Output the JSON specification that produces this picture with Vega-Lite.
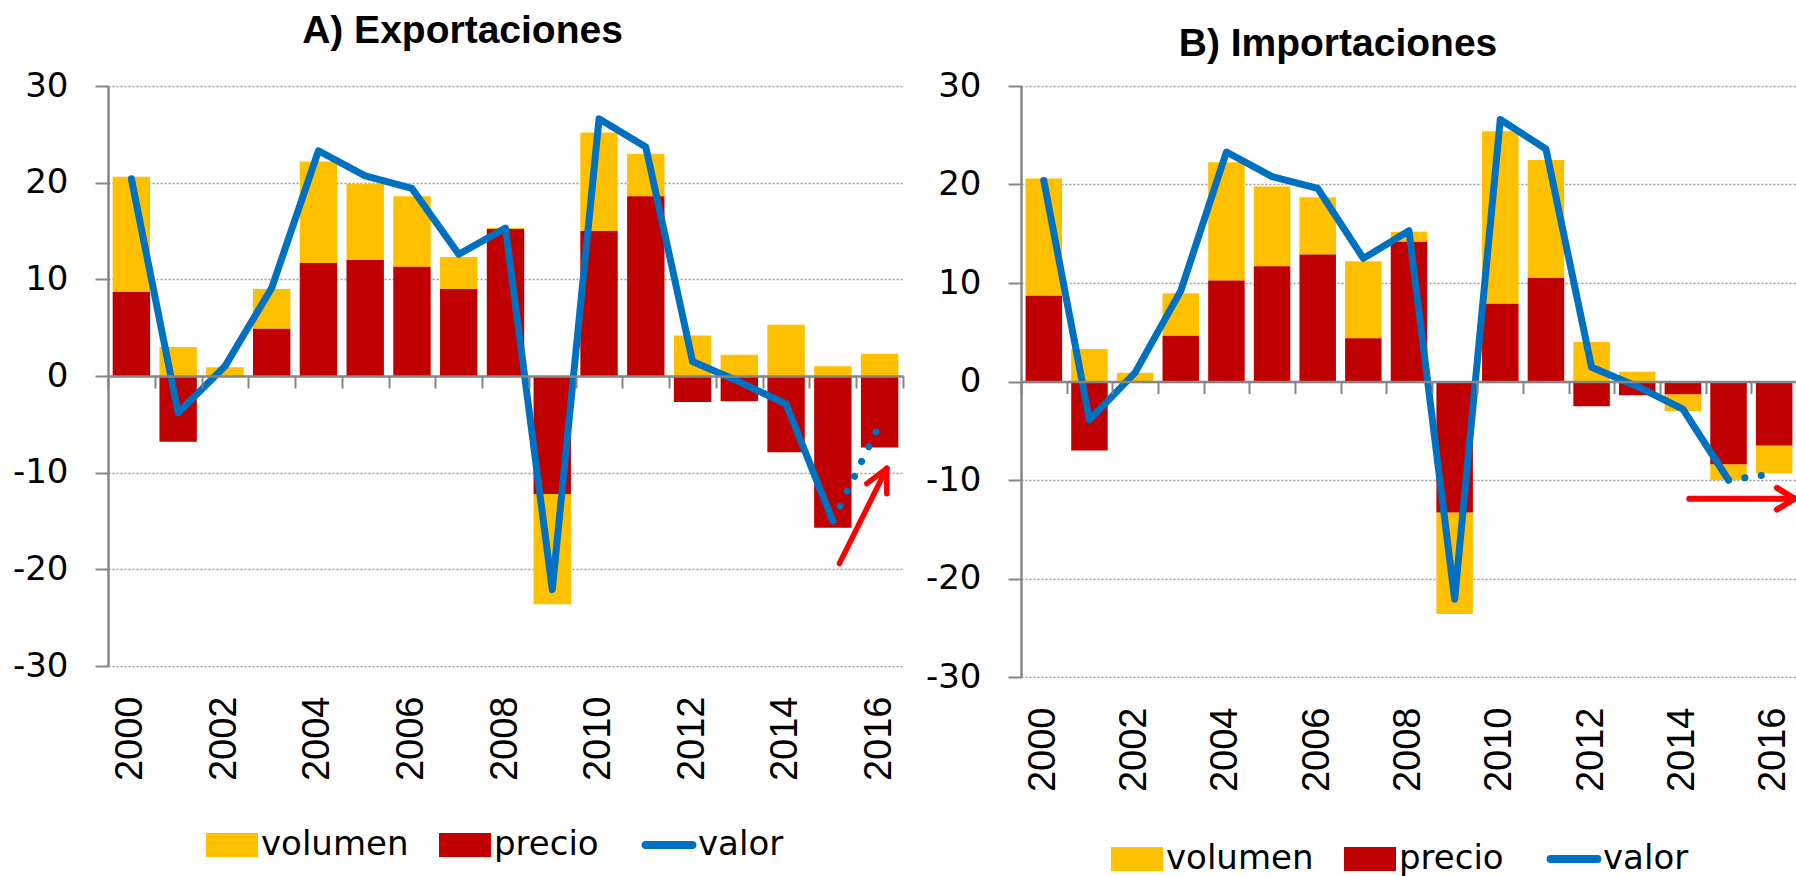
{
  "$schema": "https://vega.github.io/schema/vega-lite/v6.json",
  "background": "white",
  "padding": {"left": 12, "top": 12, "right": 0, "bottom": 0},
  "spacing": 21,
  "datasets": {
    "barras": [
      {"panel": "A", "anio": 2000, "componente": "volumen", "valor": 11.9},
      {"panel": "A", "anio": 2000, "componente": "precio", "valor": 8.7},
      {"panel": "A", "anio": 2001, "componente": "volumen", "valor": 3.0},
      {"panel": "A", "anio": 2001, "componente": "precio", "valor": -6.8},
      {"panel": "A", "anio": 2002, "componente": "volumen", "valor": 0.9},
      {"panel": "A", "anio": 2002, "componente": "precio", "valor": 0.0},
      {"panel": "A", "anio": 2003, "componente": "volumen", "valor": 4.1},
      {"panel": "A", "anio": 2003, "componente": "precio", "valor": 4.9},
      {"panel": "A", "anio": 2004, "componente": "volumen", "valor": 10.5},
      {"panel": "A", "anio": 2004, "componente": "precio", "valor": 11.7},
      {"panel": "A", "anio": 2005, "componente": "volumen", "valor": 7.9},
      {"panel": "A", "anio": 2005, "componente": "precio", "valor": 12.0},
      {"panel": "A", "anio": 2006, "componente": "volumen", "valor": 7.3},
      {"panel": "A", "anio": 2006, "componente": "precio", "valor": 11.3},
      {"panel": "A", "anio": 2007, "componente": "volumen", "valor": 3.3},
      {"panel": "A", "anio": 2007, "componente": "precio", "valor": 9.0},
      {"panel": "A", "anio": 2008, "componente": "volumen", "valor": 0.1},
      {"panel": "A", "anio": 2008, "componente": "precio", "valor": 15.2},
      {"panel": "A", "anio": 2009, "componente": "volumen", "valor": -11.4},
      {"panel": "A", "anio": 2009, "componente": "precio", "valor": -12.2},
      {"panel": "A", "anio": 2010, "componente": "volumen", "valor": 10.2},
      {"panel": "A", "anio": 2010, "componente": "precio", "valor": 15.0},
      {"panel": "A", "anio": 2011, "componente": "volumen", "valor": 4.4},
      {"panel": "A", "anio": 2011, "componente": "precio", "valor": 18.6},
      {"panel": "A", "anio": 2012, "componente": "volumen", "valor": 4.2},
      {"panel": "A", "anio": 2012, "componente": "precio", "valor": -2.7},
      {"panel": "A", "anio": 2013, "componente": "volumen", "valor": 2.2},
      {"panel": "A", "anio": 2013, "componente": "precio", "valor": -2.6},
      {"panel": "A", "anio": 2014, "componente": "volumen", "valor": 5.3},
      {"panel": "A", "anio": 2014, "componente": "precio", "valor": -7.9},
      {"panel": "A", "anio": 2015, "componente": "volumen", "valor": 1.0},
      {"panel": "A", "anio": 2015, "componente": "precio", "valor": -15.7},
      {"panel": "A", "anio": 2016, "componente": "volumen", "valor": 2.3},
      {"panel": "A", "anio": 2016, "componente": "precio", "valor": -7.4},
      {"panel": "B", "anio": 2000, "componente": "volumen", "valor": 11.9},
      {"panel": "B", "anio": 2000, "componente": "precio", "valor": 8.7},
      {"panel": "B", "anio": 2001, "componente": "volumen", "valor": 3.3},
      {"panel": "B", "anio": 2001, "componente": "precio", "valor": -7.0},
      {"panel": "B", "anio": 2002, "componente": "volumen", "valor": 0.9},
      {"panel": "B", "anio": 2002, "componente": "precio", "valor": 0.0},
      {"panel": "B", "anio": 2003, "componente": "volumen", "valor": 4.3},
      {"panel": "B", "anio": 2003, "componente": "precio", "valor": 4.65},
      {"panel": "B", "anio": 2004, "componente": "volumen", "valor": 12.0},
      {"panel": "B", "anio": 2004, "componente": "precio", "valor": 10.25},
      {"panel": "B", "anio": 2005, "componente": "volumen", "valor": 8.1},
      {"panel": "B", "anio": 2005, "componente": "precio", "valor": 11.7},
      {"panel": "B", "anio": 2006, "componente": "volumen", "valor": 5.8},
      {"panel": "B", "anio": 2006, "componente": "precio", "valor": 12.9},
      {"panel": "B", "anio": 2007, "componente": "volumen", "valor": 7.8},
      {"panel": "B", "anio": 2007, "componente": "precio", "valor": 4.4},
      {"panel": "B", "anio": 2008, "componente": "volumen", "valor": 1.0},
      {"panel": "B", "anio": 2008, "componente": "precio", "valor": 14.2},
      {"panel": "B", "anio": 2009, "componente": "volumen", "valor": -10.3},
      {"panel": "B", "anio": 2009, "componente": "precio", "valor": -13.3},
      {"panel": "B", "anio": 2010, "componente": "volumen", "valor": 17.5},
      {"panel": "B", "anio": 2010, "componente": "precio", "valor": 7.9},
      {"panel": "B", "anio": 2011, "componente": "volumen", "valor": 12.0},
      {"panel": "B", "anio": 2011, "componente": "precio", "valor": 10.5},
      {"panel": "B", "anio": 2012, "componente": "volumen", "valor": 4.0},
      {"panel": "B", "anio": 2012, "componente": "precio", "valor": -2.5},
      {"panel": "B", "anio": 2013, "componente": "volumen", "valor": 1.0},
      {"panel": "B", "anio": 2013, "componente": "precio", "valor": -1.4},
      {"panel": "B", "anio": 2014, "componente": "volumen", "valor": -1.7},
      {"panel": "B", "anio": 2014, "componente": "precio", "valor": -1.3},
      {"panel": "B", "anio": 2015, "componente": "volumen", "valor": -1.6},
      {"panel": "B", "anio": 2015, "componente": "precio", "valor": -8.4},
      {"panel": "B", "anio": 2016, "componente": "volumen", "valor": -2.85},
      {"panel": "B", "anio": 2016, "componente": "precio", "valor": -6.5}
    ],
    "linea": [
      {"panel": "A", "anio": 2000, "valor": 20.4, "tramo": "observado"},
      {"panel": "A", "anio": 2001, "valor": -3.8, "tramo": "observado"},
      {"panel": "A", "anio": 2002, "valor": 1.0, "tramo": "observado"},
      {"panel": "A", "anio": 2003, "valor": 9.1, "tramo": "observado"},
      {"panel": "A", "anio": 2004, "valor": 23.3, "tramo": "observado"},
      {"panel": "A", "anio": 2005, "valor": 20.7, "tramo": "observado"},
      {"panel": "A", "anio": 2006, "valor": 19.4, "tramo": "observado"},
      {"panel": "A", "anio": 2007, "valor": 12.6, "tramo": "observado"},
      {"panel": "A", "anio": 2008, "valor": 15.3, "tramo": "observado"},
      {"panel": "A", "anio": 2009, "valor": -22.1, "tramo": "observado"},
      {"panel": "A", "anio": 2010, "valor": 26.6, "tramo": "observado"},
      {"panel": "A", "anio": 2011, "valor": 23.7, "tramo": "observado"},
      {"panel": "A", "anio": 2012, "valor": 1.5, "tramo": "observado"},
      {"panel": "A", "anio": 2013, "valor": -0.6, "tramo": "observado"},
      {"panel": "A", "anio": 2014, "valor": -2.9, "tramo": "observado"},
      {"panel": "A", "anio": 2015, "valor": -15.0, "tramo": "observado"},
      {"panel": "A", "anio": 2015, "valor": -15.0, "tramo": "estimado"},
      {"panel": "A", "anio": 2016, "valor": -5.0, "tramo": "estimado"},
      {"panel": "B", "anio": 2000, "valor": 20.4, "tramo": "observado"},
      {"panel": "B", "anio": 2001, "valor": -3.9, "tramo": "observado"},
      {"panel": "B", "anio": 2002, "valor": 0.9, "tramo": "observado"},
      {"panel": "B", "anio": 2003, "valor": 9.2, "tramo": "observado"},
      {"panel": "B", "anio": 2004, "valor": 23.3, "tramo": "observado"},
      {"panel": "B", "anio": 2005, "valor": 20.8, "tramo": "observado"},
      {"panel": "B", "anio": 2006, "valor": 19.6, "tramo": "observado"},
      {"panel": "B", "anio": 2007, "valor": 12.5, "tramo": "observado"},
      {"panel": "B", "anio": 2008, "valor": 15.3, "tramo": "observado"},
      {"panel": "B", "anio": 2009, "valor": -22.1, "tramo": "observado"},
      {"panel": "B", "anio": 2010, "valor": 26.6, "tramo": "observado"},
      {"panel": "B", "anio": 2011, "valor": 23.6, "tramo": "observado"},
      {"panel": "B", "anio": 2012, "valor": 1.45, "tramo": "observado"},
      {"panel": "B", "anio": 2013, "valor": -0.5, "tramo": "observado"},
      {"panel": "B", "anio": 2014, "valor": -2.8, "tramo": "observado"},
      {"panel": "B", "anio": 2015, "valor": -10.0, "tramo": "observado"},
      {"panel": "B", "anio": 2015, "valor": -10.0, "tramo": "estimado"},
      {"panel": "B", "anio": 2016, "valor": -9.35, "tramo": "estimado"}
    ],
    "flechas": [
      {"panel": "A", "x": 2015.14, "y": -19.4, "x2": 2016.153, "y2": -9.55},
      {"panel": "A", "x": 2016.153, "y": -9.55, "x2": 2015.725, "y2": -11.13},
      {"panel": "A", "x": 2016.153, "y": -9.55, "x2": 2016.153, "y2": -12.17},
      {"panel": "B", "x": 2014.14, "y": -11.9, "x2": 2016.45, "y2": -11.9},
      {"panel": "B", "x": 2016.45, "y": -11.9, "x2": 2016.06, "y2": -10.8},
      {"panel": "B", "x": 2016.45, "y": -11.9, "x2": 2016.06, "y2": -13.0}
    ]
  },
  "hconcat": [
    {
      "width": 795,
      "height": 580,
      "title": {"text": "A) Exportaciones", "font": "Liberation Sans", "fontSize": 39, "fontWeight": "bold", "color": "black", "anchor": "middle", "offset": 18, "dx": -43},
      "layer": [
        {
          "data": {"name": "barras"},
          "transform": [{"filter": "datum.panel === 'A'"}],
          "mark": {"type": "bar"},
          "encoding": {
            "x": {"field": "anio", "type": "ordinal", "scale": {"paddingInner": 0.2, "paddingOuter": 0.1},
              "axis": {"orient": "bottom", "title": null, "domain": false, "ticks": false, "grid": false, "labelAngle": -90, "labelFont": "Liberation Sans", "labelFontSize": 38, "labelColor": "black", "labelPadding": 30, "values": [2000, 2002, 2004, 2006, 2008, 2010, 2012, 2014, 2016]}},
            "y": {"field": "valor", "type": "quantitative", "stack": "zero", "scale": {"domain": [-30, 30], "nice": false},
              "axis": {"title": null, "values": [-30, -20, -10, 0, 10, 20, 30], "labelExpr": "'' + datum.value", "grid": true, "gridColor": "#999999", "gridDash": [2, 2], "gridWidth": 1.5, "domainColor": "#868686", "domainWidth": 2.5, "tickColor": "#868686", "tickWidth": 2, "tickSize": 13, "labelFont": "DejaVu Sans", "labelFontSize": 34, "labelColor": "black", "labelPadding": 27}},
            "color": {"field": "componente", "type": "nominal",
              "scale": {"domain": ["volumen", "precio", "valor"], "range": ["#FFC000", "#C00000", "#0070C0"]},
              "legend": {"orient": "none", "legendX": 107, "legendY": 742, "direction": "horizontal", "title": null, "padding": 0, "labelFont": "DejaVu Sans", "labelFontSize": 34, "labelColor": "black", "labelOffset": 12, "columnPadding": 30, "labelLimit": 400, "symbolSize": 2704,
                "encode": {"symbols": {"update": {
                  "shape": {"signal": "datum.value === 'valor' ? 'M-0.9,0H0.9' : 'M-1,-0.46H1V0.46H-1Z'"},
                  "size": {"value": 2704},
                  "fill": {"signal": "datum.value === 'valor' ? 'transparent' : (datum.value === 'volumen' ? '#FFC000' : '#C00000')"},
                  "stroke": {"signal": "datum.value === 'valor' ? '#0070C0' : 'transparent'"},
                  "strokeWidth": {"signal": "datum.value === 'valor' ? 8 : 0"},
                  "strokeCap": {"value": "round"},
                  "opacity": {"value": 1}}}}}},
            "order": {"field": "componente", "sort": "ascending"}
          }
        },
        {
          "data": {"name": "linea"},
          "transform": [{"filter": "datum.panel === 'A' && datum.tramo === 'observado'"}],
          "mark": {"type": "line", "strokeWidth": 7, "strokeJoin": "round", "strokeCap": "round"},
          "encoding": {
            "x": {"field": "anio", "type": "ordinal", "scale": {"domain": [2000, 2001, 2002, 2003, 2004, 2005, 2006, 2007, 2008, 2009, 2010, 2011, 2012, 2013, 2014, 2015, 2016]},
              "axis": {"orient": "bottom", "offset": -290, "title": null, "labels": false, "grid": false, "domain": true, "domainColor": "#868686", "domainWidth": 2.5, "ticks": true, "tickBand": "extent", "tickColor": "#868686", "tickWidth": 2, "tickSize": 12, "zindex": 1}},
            "y": {"field": "valor", "type": "quantitative", "scale": {"domain": [-30, 30], "nice": false},
              "axis": {"title": null, "values": [-30, -20, -10, 0, 10, 20, 30], "labelExpr": "'' + datum.value", "grid": true, "gridColor": "#999999", "gridDash": [2, 2], "gridWidth": 1.5, "domainColor": "#868686", "domainWidth": 2.5, "tickColor": "#868686", "tickWidth": 2, "tickSize": 13, "labelFont": "DejaVu Sans", "labelFontSize": 34, "labelColor": "black", "labelPadding": 27}},
            "color": {"datum": "valor", "type": "nominal"}
          }
        },
        {
          "data": {"name": "linea"},
          "transform": [{"filter": "datum.panel === 'A' && datum.tramo === 'estimado'"}],
          "mark": {"type": "line", "strokeWidth": 7, "strokeCap": "round", "strokeDash": [0.1, 16.4]},
          "encoding": {
            "x": {"field": "anio", "type": "ordinal", "scale": {"domain": [2000, 2001, 2002, 2003, 2004, 2005, 2006, 2007, 2008, 2009, 2010, 2011, 2012, 2013, 2014, 2015, 2016]}, "axis": null},
            "y": {"field": "valor", "type": "quantitative", "scale": {"domain": [-30, 30], "nice": false},
              "axis": {"title": null, "values": [-30, -20, -10, 0, 10, 20, 30], "labelExpr": "'' + datum.value", "grid": true, "gridColor": "#999999", "gridDash": [2, 2], "gridWidth": 1.5, "domainColor": "#868686", "domainWidth": 2.5, "tickColor": "#868686", "tickWidth": 2, "tickSize": 13, "labelFont": "DejaVu Sans", "labelFontSize": 34, "labelColor": "black", "labelPadding": 27}},
            "color": {"datum": "valor", "type": "nominal"}
          }
        },
        {
          "data": {"name": "flechas"},
          "transform": [{"filter": "datum.panel === 'A'"}],
          "mark": {"type": "rule", "color": "#FF0000", "strokeWidth": 5.5, "strokeCap": "round"},
          "encoding": {
            "x": {"field": "x", "type": "quantitative", "scale": {"domain": [1999.5, 2016.5], "nice": false, "zero": false}, "axis": null},
            "x2": {"field": "x2"},
            "y": {"field": "y", "type": "quantitative", "scale": {"domain": [-30, 30], "nice": false},
              "axis": {"title": null, "values": [-30, -20, -10, 0, 10, 20, 30], "labelExpr": "'' + datum.value", "grid": true, "gridColor": "#999999", "gridDash": [2, 2], "gridWidth": 1.5, "domainColor": "#868686", "domainWidth": 2.5, "tickColor": "#868686", "tickWidth": 2, "tickSize": 13, "labelFont": "DejaVu Sans", "labelFontSize": 34, "labelColor": "black", "labelPadding": 27}},
            "y2": {"field": "y2"}
          }
        }
      ],
      "resolve": {"scale": {"x": "independent"}, "axis": {"x": "independent"}}
    },
    {
      "width": 776,
      "height": 591,
      "title": {"text": "B) Importaciones", "font": "Liberation Sans", "fontSize": 39, "fontWeight": "bold", "color": "black", "anchor": "middle", "offset": 5, "dx": -71},
      "layer": [
        {
          "data": {"name": "barras"},
          "transform": [{"filter": "datum.panel === 'B'"}],
          "mark": {"type": "bar"},
          "encoding": {
            "x": {"field": "anio", "type": "ordinal", "scale": {"paddingInner": 0.2, "paddingOuter": 0.1},
              "axis": {"orient": "bottom", "title": null, "domain": false, "ticks": false, "grid": false, "labelAngle": -90, "labelFont": "Liberation Sans", "labelFontSize": 38, "labelColor": "black", "labelPadding": 30, "values": [2000, 2002, 2004, 2006, 2008, 2010, 2012, 2014, 2016]}},
            "y": {"field": "valor", "type": "quantitative", "stack": "zero", "scale": {"domain": [-30, 30], "nice": false},
              "axis": {"title": null, "values": [-30, -20, -10, 0, 10, 20, 30], "labelExpr": "'' + datum.value", "grid": true, "gridColor": "#999999", "gridDash": [2, 2], "gridWidth": 1.5, "domainColor": "#868686", "domainWidth": 2.5, "tickColor": "#868686", "tickWidth": 2, "tickSize": 13, "labelFont": "DejaVu Sans", "labelFontSize": 34, "labelColor": "black", "labelPadding": 27}},
            "color": {"field": "componente", "type": "nominal",
              "scale": {"domain": ["volumen", "precio", "valor"], "range": ["#FFC000", "#C00000", "#0070C0"]},
              "legend": {"orient": "none", "legendX": 99, "legendY": 756, "direction": "horizontal", "title": null, "padding": 0, "labelFont": "DejaVu Sans", "labelFontSize": 34, "labelColor": "black", "labelOffset": 12, "columnPadding": 30, "labelLimit": 400, "symbolSize": 2704,
                "encode": {"symbols": {"update": {
                  "shape": {"signal": "datum.value === 'valor' ? 'M-0.9,0H0.9' : 'M-1,-0.46H1V0.46H-1Z'"},
                  "size": {"value": 2704},
                  "fill": {"signal": "datum.value === 'valor' ? 'transparent' : (datum.value === 'volumen' ? '#FFC000' : '#C00000')"},
                  "stroke": {"signal": "datum.value === 'valor' ? '#0070C0' : 'transparent'"},
                  "strokeWidth": {"signal": "datum.value === 'valor' ? 8 : 0"},
                  "strokeCap": {"value": "round"},
                  "opacity": {"value": 1}}}}}},
            "order": {"field": "componente", "sort": "ascending"}
          }
        },
        {
          "data": {"name": "linea"},
          "transform": [{"filter": "datum.panel === 'B' && datum.tramo === 'observado'"}],
          "mark": {"type": "line", "strokeWidth": 7, "strokeJoin": "round", "strokeCap": "round"},
          "encoding": {
            "x": {"field": "anio", "type": "ordinal", "scale": {"domain": [2000, 2001, 2002, 2003, 2004, 2005, 2006, 2007, 2008, 2009, 2010, 2011, 2012, 2013, 2014, 2015, 2016]},
              "axis": {"orient": "bottom", "offset": -295.5, "title": null, "labels": false, "grid": false, "domain": true, "domainColor": "#868686", "domainWidth": 2.5, "ticks": true, "tickBand": "extent", "tickColor": "#868686", "tickWidth": 2, "tickSize": 12, "zindex": 1}},
            "y": {"field": "valor", "type": "quantitative", "scale": {"domain": [-30, 30], "nice": false},
              "axis": {"title": null, "values": [-30, -20, -10, 0, 10, 20, 30], "labelExpr": "'' + datum.value", "grid": true, "gridColor": "#999999", "gridDash": [2, 2], "gridWidth": 1.5, "domainColor": "#868686", "domainWidth": 2.5, "tickColor": "#868686", "tickWidth": 2, "tickSize": 13, "labelFont": "DejaVu Sans", "labelFontSize": 34, "labelColor": "black", "labelPadding": 27}},
            "color": {"datum": "valor", "type": "nominal"}
          }
        },
        {
          "data": {"name": "linea"},
          "transform": [{"filter": "datum.panel === 'B' && datum.tramo === 'estimado'"}],
          "mark": {"type": "line", "strokeWidth": 7, "strokeCap": "round", "strokeDash": [0.1, 16.4]},
          "encoding": {
            "x": {"field": "anio", "type": "ordinal", "scale": {"domain": [2000, 2001, 2002, 2003, 2004, 2005, 2006, 2007, 2008, 2009, 2010, 2011, 2012, 2013, 2014, 2015, 2016]}, "axis": null},
            "y": {"field": "valor", "type": "quantitative", "scale": {"domain": [-30, 30], "nice": false},
              "axis": {"title": null, "values": [-30, -20, -10, 0, 10, 20, 30], "labelExpr": "'' + datum.value", "grid": true, "gridColor": "#999999", "gridDash": [2, 2], "gridWidth": 1.5, "domainColor": "#868686", "domainWidth": 2.5, "tickColor": "#868686", "tickWidth": 2, "tickSize": 13, "labelFont": "DejaVu Sans", "labelFontSize": 34, "labelColor": "black", "labelPadding": 27}},
            "color": {"datum": "valor", "type": "nominal"}
          }
        },
        {
          "data": {"name": "flechas"},
          "transform": [{"filter": "datum.panel === 'B'"}],
          "mark": {"type": "rule", "color": "#FF0000", "strokeWidth": 6, "strokeCap": "round"},
          "encoding": {
            "x": {"field": "x", "type": "quantitative", "scale": {"domain": [1999.5, 2016.5], "nice": false, "zero": false}, "axis": null},
            "x2": {"field": "x2"},
            "y": {"field": "y", "type": "quantitative", "scale": {"domain": [-30, 30], "nice": false},
              "axis": {"title": null, "values": [-30, -20, -10, 0, 10, 20, 30], "labelExpr": "'' + datum.value", "grid": true, "gridColor": "#999999", "gridDash": [2, 2], "gridWidth": 1.5, "domainColor": "#868686", "domainWidth": 2.5, "tickColor": "#868686", "tickWidth": 2, "tickSize": 13, "labelFont": "DejaVu Sans", "labelFontSize": 34, "labelColor": "black", "labelPadding": 27}},
            "y2": {"field": "y2"}
          }
        }
      ],
      "resolve": {"scale": {"x": "independent"}, "axis": {"x": "independent"}}
    }
  ],
  "resolve": {"scale": {"color": "independent"}, "legend": {"color": "independent"}},
  "config": {"view": {"stroke": null}}
}
